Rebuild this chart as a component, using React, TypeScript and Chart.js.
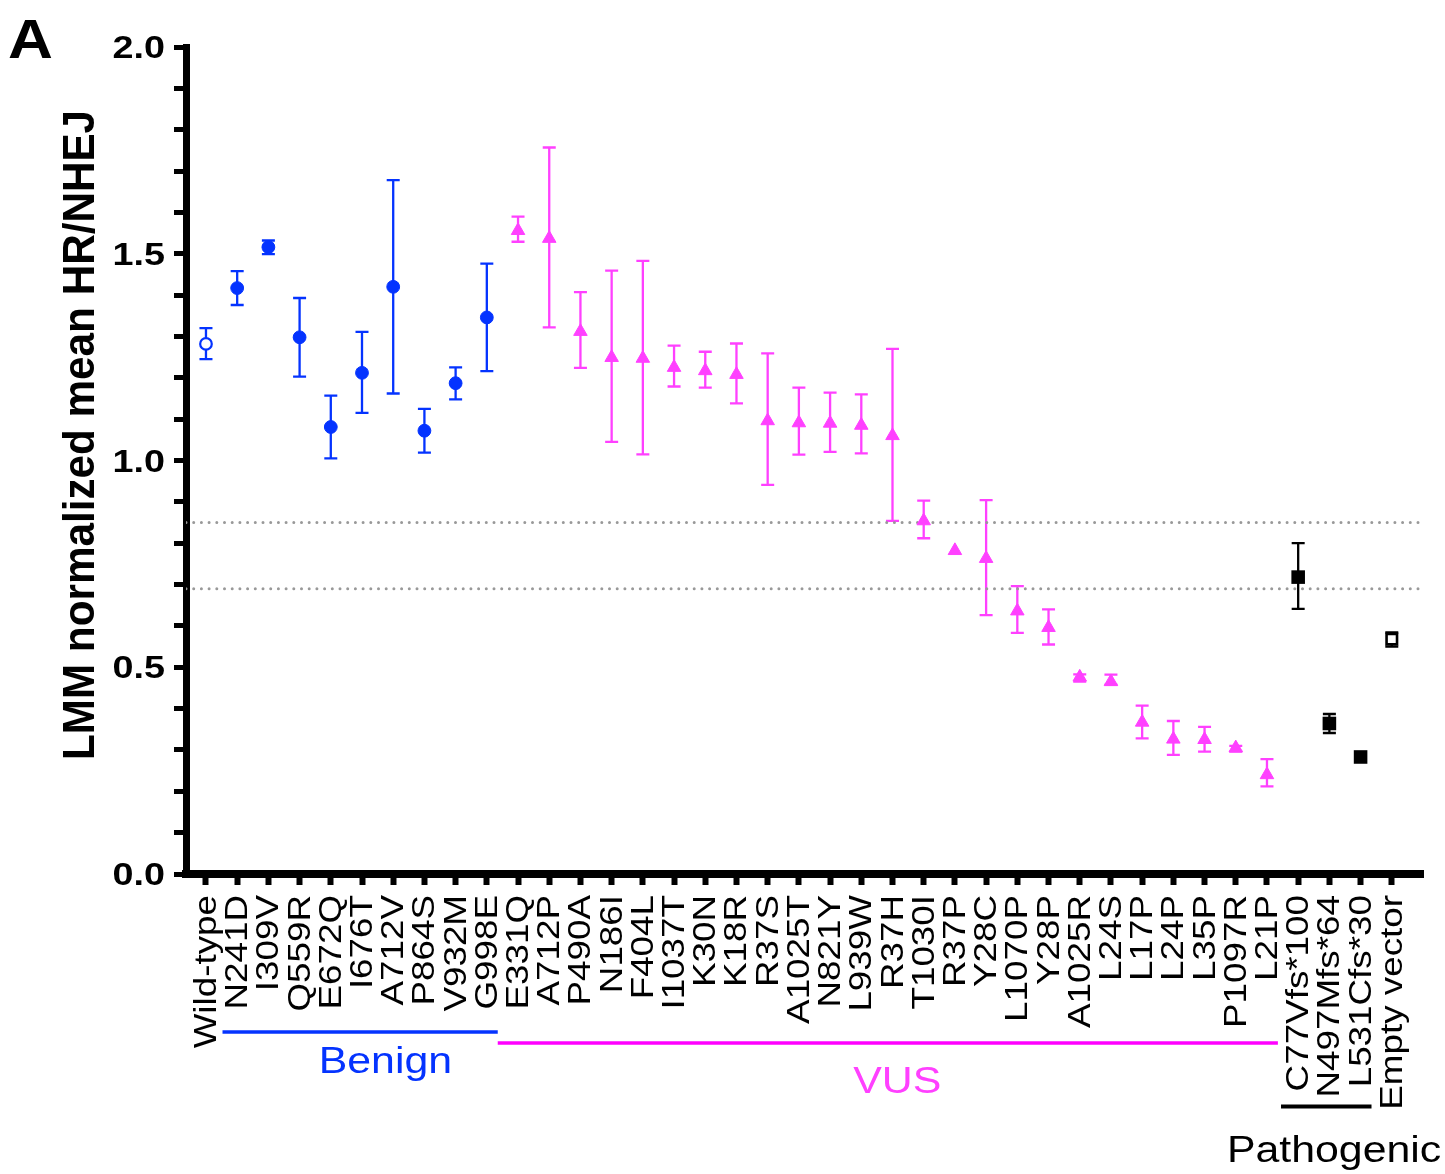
import React, { useEffect, useRef } from 'react';
import { Chart, registerables } from 'chart.js';

Chart.register(...registerables);

const categories = [
  'Wild-type', 'N241D', 'I309V', 'Q559R', 'E672Q', 'I676T', 'A712V', 'P864S', 'V932M', 'G998E',
  'E331Q', 'A712P', 'P490A', 'N186I', 'F404L', 'I1037T', 'K30N', 'K18R', 'R37S', 'A1025T',
  'N821Y', 'L939W', 'R37H', 'T1030I', 'R37P', 'Y28C', 'L1070P', 'Y28P', 'A1025R', 'L24S',
  'L17P', 'L24P', 'L35P', 'P1097R', 'L21P', 'C77Vfs*100', 'N497Mfs*64', 'L531Cfs*30', 'Empty vector',
];

const means = [
  1.282, 1.417, 1.516, 1.298, 1.081, 1.212, 1.420, 1.072, 1.187, 1.346,
  1.556, 1.537, 1.312, 1.249, 1.247, 1.225, 1.217, 1.208, 1.096, 1.091,
  1.090, 1.085, 1.060, 0.854, 0.782, 0.763, 0.636, 0.596, 0.476, 0.465,
  0.367, 0.326, 0.325, 0.305, 0.240, 0.718, 0.364, 0.283, 0.568,
];

const upper = [
  1.320, 1.458, 1.532, 1.393, 1.157, 1.311, 1.678, 1.125, 1.225, 1.476,
  1.590, 1.757, 1.407, 1.459, 1.483, 1.278, 1.263, 1.283, 1.259, 1.176,
  1.164, 1.160, 1.270, 0.903, null, 0.904, 0.696, 0.640, 0.483, 0.482,
  0.407, 0.370, 0.356, 0.310, 0.278, 0.800, 0.387, null, 0.584,
];

const lower = [
  1.245, 1.376, 1.499, 1.203, 1.005, 1.115, 1.162, 1.019, 1.148, 1.216,
  1.529, 1.322, 1.224, 1.045, 1.015, 1.179, 1.176, 1.138, 0.941, 1.014,
  1.021, 1.017, 0.854, 0.812, null, 0.626, 0.583, 0.555, 0.465, 0.458,
  0.328, 0.288, 0.296, 0.296, 0.212, 0.641, 0.341, null, 0.550,
];

// index ranges of the groups
const wildTypeIndex = 0;
const benignRange = [1, 9];
const vusRange = [10, 34];
const pathogenicRange = [35, 37];
const emptyVectorIndex = 38;

const thresholds = [0.85, 0.69];

const yMinorTicks = [0, 0.1, 0.2, 0.3, 0.4, 0.5, 0.6, 0.7, 0.8, 0.9, 1.0, 1.1, 1.2, 1.3, 1.4, 1.5, 1.6, 1.7, 1.8, 1.9, 2.0];
const yTickValues = [0, 0.5, 1.0, 1.5, 2.0];
const yTickLabels = ['0.0', '0.5', '1.0', '1.5', '2.0'];

const BLUE = '#0433FF';
const PINK = '#FF40FF';
const MAGENTA = '#FF00FF';
const BLACK = '#000000';
const FONT = '"Liberation Sans", Arial, Helvetica, sans-serif';

function colorFor(i: number) {
  if (i <= benignRange[1]) return BLUE;
  if (i <= vusRange[1]) return PINK;
  return BLACK;
}

function pts(from: number, to: number) {
  const out: { x: number; y: number }[] = [];
  for (let i = from; i <= to; i++) out.push({ x: i, y: means[i] });
  return out;
}

function drawText(
  ctx: CanvasRenderingContext2D,
  text: string,
  x: number,
  y: number,
  opts: { font: string; sx: number; rot?: number; align?: CanvasTextAlign; baseline?: CanvasTextBaseline; color?: string; dy?: number }
) {
  ctx.save();
  ctx.translate(x, y);
  if (opts.rot) ctx.rotate(opts.rot);
  ctx.scale(opts.sx, 1);
  ctx.font = opts.font;
  ctx.fillStyle = opts.color || BLACK;
  ctx.textAlign = opts.align || 'left';
  ctx.textBaseline = opts.baseline || 'alphabetic';
  ctx.fillText(text, 0, opts.dy || 0);
  ctx.restore();
}

const errorBarPlugin = {
  id: 'errorBars',
  beforeDatasetsDraw(chart: any) {
    const { ctx } = chart;
    const x = chart.scales.x;
    const y = chart.scales.y;
    ctx.save();
    ctx.lineCap = 'butt';
    for (let i = 0; i < categories.length; i++) {
      const hi = upper[i];
      const lo = lower[i];
      if (hi == null || lo == null) continue;
      const px = x.getPixelForValue(i);
      const pyH = y.getPixelForValue(hi);
      const pyL = y.getPixelForValue(lo);
      ctx.strokeStyle = colorFor(i);
      ctx.lineWidth = 2.3;
      ctx.beginPath();
      ctx.moveTo(px, pyH);
      ctx.lineTo(px, pyL);
      ctx.moveTo(px - 6.5, pyH);
      ctx.lineTo(px + 6.5, pyH);
      ctx.moveTo(px - 6.5, pyL);
      ctx.lineTo(px + 6.5, pyL);
      ctx.stroke();
    }
    ctx.restore();
  },
};

const annotationPlugin = {
  id: 'annotations',
  afterDraw(chart: any) {
    const { ctx } = chart;
    const x = chart.scales.x;
    const y = chart.scales.y;

    // panel letter
    drawText(ctx, 'A', 8, 58, { font: `bold 55px ${FONT}`, sx: 1.13 });

    // y axis title
    drawText(ctx, 'LMM normalized mean HR/NHEJ', 94, 435, {
      font: `bold 44px ${FONT}`, sx: 0.96, rot: -Math.PI / 2, align: 'center',
    });

    // y tick labels
    yTickValues.forEach((v, k) => {
      drawText(ctx, yTickLabels[k], 165, y.getPixelForValue(v) + 11, {
        font: `bold 32px ${FONT}`, sx: 1.18, align: 'right',
      });
    });

    // x tick labels
    categories.forEach((c, i) => {
      drawText(ctx, c, x.getPixelForValue(i), 895, {
        font: `32px ${FONT}`, sx: 1.15, rot: -Math.PI / 2, align: 'right', dy: 10,
      });
    });

    // group lines
    const line = (a: number, b: number, py: number, w: number, col: string) => {
      ctx.save();
      ctx.strokeStyle = col;
      ctx.lineWidth = w;
      ctx.beginPath();
      ctx.moveTo(x.getPixelForValue(a), py);
      ctx.lineTo(x.getPixelForValue(b), py);
      ctx.stroke();
      ctx.restore();
    };
    line(benignRange[0] - 0.47, benignRange[1] + 0.35, 1032, 3.5, BLUE);
    line(vusRange[0] - 0.65, vusRange[1] + 0.35, 1043, 3.5, MAGENTA);
    line(pathogenicRange[0] - 0.55, pathogenicRange[1] + 0.35, 1106.5, 4, BLACK);

    drawText(ctx, 'Benign', x.getPixelForValue(5.75), 1073, { font: `36px ${FONT}`, sx: 1.19, align: 'center', color: BLUE });
    drawText(ctx, 'VUS', x.getPixelForValue(22.15), 1093, { font: `36px ${FONT}`, sx: 1.19, align: 'center', color: PINK });
    drawText(ctx, 'Pathogenic', x.getPixelForValue(36.15), 1162, { font: `36px ${FONT}`, sx: 1.19, align: 'center', color: BLACK });
  },
};

export default function App() {
  const ref = useRef<HTMLCanvasElement | null>(null);

  useEffect(() => {
    if (!ref.current) return;
    const thresholdSets = thresholds.map((t) => ({
      type: 'line' as const,
      data: [{ x: -0.64, y: t }, { x: 39.0, y: t }],
      borderColor: '#999999',
      borderWidth: 3,
      borderDash: [0, 7.7],
      borderCapStyle: 'round' as const,
      pointRadius: 0,
      showLine: true,
      fill: false,
      order: 10,
    }));

    const chart = new Chart(ref.current, {
      type: 'scatter',
      data: {
        datasets: [
          {
            data: pts(wildTypeIndex, wildTypeIndex),
            pointStyle: 'circle', pointRadius: 5.8, backgroundColor: '#ffffff', borderColor: BLUE, borderWidth: 2.2, order: 1,
          },
          {
            data: pts(benignRange[0], benignRange[1]),
            pointStyle: 'circle', pointRadius: 6.4, backgroundColor: BLUE, borderColor: BLUE, borderWidth: 1, order: 1,
          },
          {
            data: pts(vusRange[0], vusRange[1]),
            pointStyle: 'triangle', pointRadius: 7.8, backgroundColor: PINK, borderColor: PINK, borderWidth: 1, order: 1,
          },
          {
            data: pts(pathogenicRange[0], pathogenicRange[1]),
            pointStyle: 'rect', pointRadius: 9.6, backgroundColor: BLACK, borderColor: BLACK, borderWidth: 0, order: 1,
          },
          {
            data: pts(emptyVectorIndex, emptyVectorIndex),
            pointStyle: 'rect', pointRadius: 7.4, backgroundColor: '#ffffff', borderColor: BLACK, borderWidth: 2.6, order: 1,
          },
          ...thresholdSets,
        ] as any,
      },
      options: {
        animation: false,
        responsive: false,
        devicePixelRatio: 1,
        layout: { padding: { left: 174, top: 47, right: 22, bottom: 289 } },
        plugins: { legend: { display: false }, tooltip: { enabled: false }, title: { display: false } },
        scales: {
          x: {
            type: 'linear',
            min: -0.64,
            max: 39.0,
            afterBuildTicks: (s: any) => { s.ticks = categories.map((_, i) => ({ value: i })); },
            afterFit: (s: any) => { s.height = 11; },
            ticks: { display: false },
            grid: { display: true, drawOnChartArea: false, drawTicks: true, tickLength: 11, tickWidth: 6, tickColor: BLACK },
            border: { display: true, width: 8, color: BLACK },
          },
          y: {
            type: 'linear',
            min: 0,
            max: 2,
            afterBuildTicks: (s: any) => { s.ticks = yMinorTicks.map((v) => ({ value: v })); },
            afterFit: (s: any) => { s.width = 12; },
            ticks: { display: false },
            grid: { display: true, drawOnChartArea: false, drawTicks: true, tickLength: 12, tickWidth: 5, tickColor: BLACK },
            border: { display: true, width: 7, color: BLACK },
          },
        },
      } as any,
      plugins: [errorBarPlugin, annotationPlugin],
    });
    return () => chart.destroy();
  }, []);

  return (
    <div style={{ position: 'absolute', left: 0, top: 0, width: 1445, height: 1174, background: '#ffffff' }}>
      <canvas ref={ref} width={1445} height={1174} style={{ display: 'block', width: 1445, height: 1174 }} />
    </div>
  );
}
